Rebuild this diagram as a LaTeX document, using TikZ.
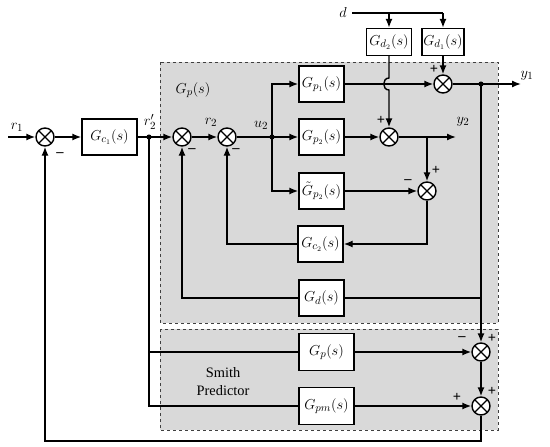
\documentclass[tikz,border=0pt]{standalone}
\usepackage{fontspec}
\setmainfont{Liberation Serif}
\usetikzlibrary{arrows.meta,calc,positioning}

\begin{document}
\begin{tikzpicture}[x=1pt,y=-1pt,>={Latex[length=9pt,width=7pt]},line width=1.4pt,
  block/.style={draw,fill=white,minimum width=45pt,minimum height=36pt,inner sep=0.5pt,font=\fontsize{15}{17}\selectfont},
  sumx/.style={draw,circle,fill=white,minimum size=18pt,inner sep=0pt,
    path picture={\draw (path picture bounding box.north west) -- (path picture bounding box.south east)
      (path picture bounding box.north east) -- (path picture bounding box.south west);}},
  sgn/.style={font=\Large\bfseries},
  lbl/.style={font=\fontsize{15}{17}\selectfont},
  dot/.style={circle,fill,inner sep=1.8pt},
  panel/.style={fill=black!15,draw=black!75,dashed,line width=0.7pt}]
        \useasboundingbox (0,0) rectangle (550,447);
        % panels
        \draw[panel] (160,62) rectangle (498,323);
        \draw[panel] (160,329) rectangle (498,430);
        \node[lbl] (gplab) at (193,90) {$G_p(s)$};
        \node[font=\Large,align=center,inner sep=0pt] (smith) at (223,382) {Smith\\Predictor};

        % blocks and sums
        \node[sumx] (s1) at (45,137) {};
        \node[block,minimum width=55pt] (gc1) at (109.5,137) {$G_{c_1}(s)$};
        \node[sumx] (s2) at (182,137) {};
        \node[sumx] (s3) at (227,137) {};
        \node[block] (gp1) at (321.5,84) {$G_{p_1}(s)$};
        \node[block] (gp2) at (321.5,137) {$G_{p_2}(s)$};
        \node[block] (gt2) at (321.5,191) {$\tilde{G}_{p_2}(s)$};
        \node[block] (gc2) at (320.5,244) {$G_{c_2}(s)$};
        \node[block] (gd) at (321.5,298) {$G_d(s)$};
        \node[block,minimum width=55pt,minimum height=37pt] (gp) at (326.5,352) {$G_p(s)$};
        \node[block,minimum width=55pt,minimum height=37pt] (gpm) at (326.5,406) {$G_{pm}(s)$};
        \node[block,minimum width=45pt,minimum height=27pt] (gd2) at (389,42) {$G_{d_2}(s)$};
        \node[block,minimum width=42pt,minimum height=27pt] (gd1) at (443,42) {$G_{d_1}(s)$};
        \node[sumx] (sy1) at (443,84) {};
        \node[sumx] (sy2) at (389,137) {};
        \node[sumx] (se) at (427,191) {};
        \node[sumx] (sp) at (481,352) {};
        \node[sumx] (spm) at (481,406) {};

        \coordinate (r1in) at (8,137);
        \coordinate (r2p) at (149,137);
        \coordinate (u2) at (272,137);
        \coordinate (y1b) at (481,84);
        \coordinate (y1out) at (521,84);
        \coordinate (y2b) at (427,137);
        \coordinate (y2out) at (456,137);
        \coordinate (dsrc) at (352,13);
        \coordinate (fb) at (481,441);

        % connections
        \draw[->] (r1in) -- (s1);
        \draw[->] (s1) -- (gc1);
        \draw[->] (gc1) -- (s2);
        \draw[->] (s2) -- (s3);
        \draw (s3) -- (u2);
        \draw[->] (u2) |- (gp1);
        \draw[->] (u2) -- (gp2);
        \draw[->] (u2) |- (gt2);
        \draw[->] (gp1) -- (sy1);
        \draw[->] (gp2) -- (sy2);
        \draw[->] (gt2) -- (se);
        \draw[->] (sy1) -- (y1out);
        \draw[->] (sy2) -- (y2out);
        \draw[->] (y2b) -- (se);
        \draw[->] (se) |- (gc2);
        \draw[->] (gc2) -| (s3);
        \draw[->] (gd) -| (s2);
        \draw (gd) -- (gd -| y1b);
        \draw[->] (y1b) -- (sp);
        \draw[->] (sp) -- (spm);
        \draw[->] (spm) -- (fb) -| (s1);
        \draw (r2p) |- (gpm);
        \draw (r2p |- gp) -- (gp);
        \draw[->] (gp) -- (sp);
        \draw[->] (gpm) -- (spm);
        \draw (dsrc) -- (dsrc -| gd1);
        \draw[->] (dsrc -| gd1) -- (gd1);
        \draw[->] (dsrc -| gd2) -- (gd2);
        \draw[->] (gd1) -- (sy1);
        \draw[->] (gd2) -- ($(gd2 |- sy1)+(0,-6)$) .. controls +(-7,0) and +(-7,0) .. ($(gd2 |- sy1)+(0,6)$) -- (sy2);

        \node[dot] (dot1) at (r2p) {};
        \node[dot] (dot2) at (u2) {};
        \node[dot] (dot3) at (y1b) {};

        % signal labels
        \node[lbl] (r1lab) at (17,127) {$r_1$};
        \node[lbl] (r2plab) at (150,122) {$r_2'$};
        \node[lbl] (r2lab) at (211,122) {$r_2$};
        \node[lbl] (u2lab) at (261,125) {$u_2$};
        \node[lbl] (y1lab) at (527,76) {$y_1$};
        \node[lbl] (y2lab) at (463,122) {$y_2$};
        \node[lbl] (dlab) at (343,12) {$d$};

        % signs
        \node[sgn] (m1) at (60,155) {--};
        \node[sgn] (m2) at (192,151) {--};
        \node[sgn] (m3) at (236,151) {--};
        \node[sgn] (p1) at (434,69) {+};
        \node[sgn] (p2) at (381,120) {+};
        \node[sgn] (p3) at (436,170) {+};
        \node[sgn] (m4) at (408,182) {--};
        \node[sgn] (m5) at (462,339) {--};
        \node[sgn] (p4) at (492,338) {+};
        \node[sgn] (p5) at (457,397) {+};
        \node[sgn] (p6) at (492,391) {+};
      \end{tikzpicture}
\end{document}
